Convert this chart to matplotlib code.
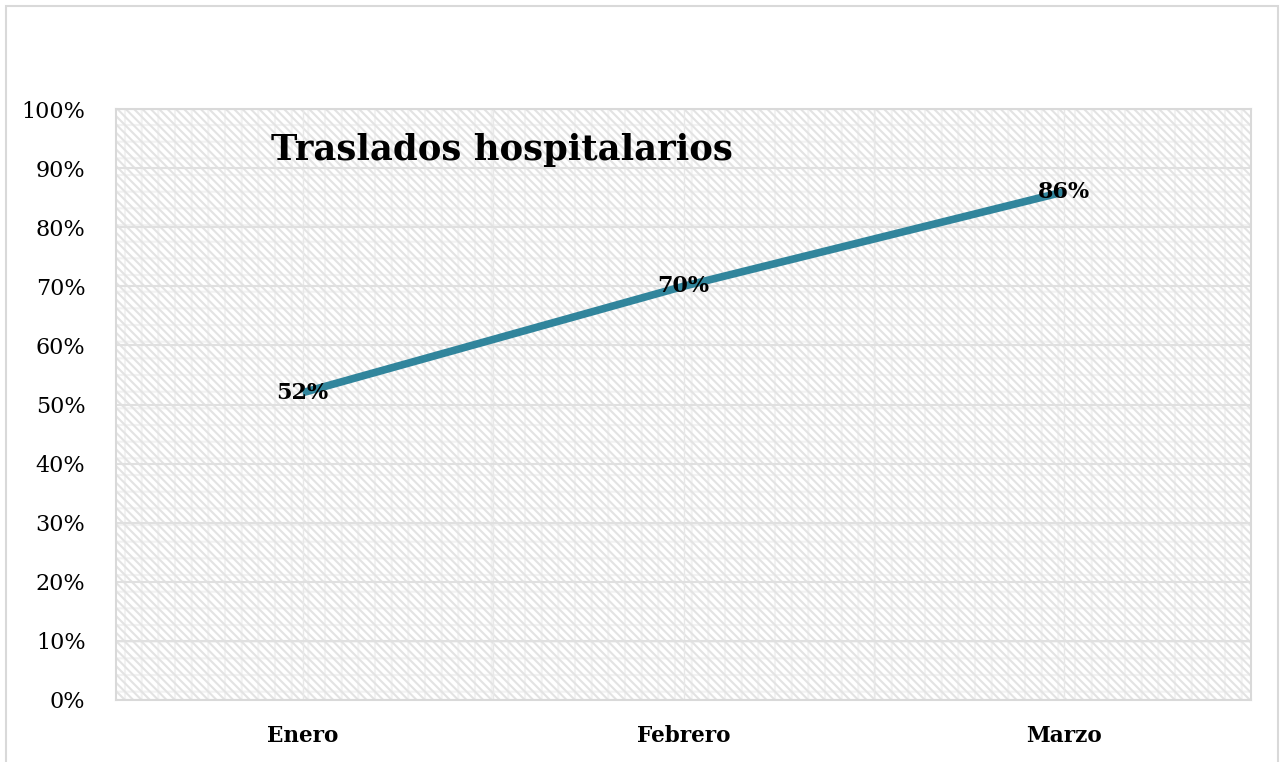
import matplotlib.pyplot as plt
from matplotlib.patches import Rectangle
from matplotlib.ticker import PercentFormatter

meses = ["Enero", "Febrero", "Marzo"]
traslados = [52, 70, 86]

plt.rcParams['font.family'] = ['DejaVu Serif']
plt.rcParams['hatch.linewidth'] = 1.5

fig = plt.figure(figsize=(12.84, 7.62), dpi=100)
ax = fig.add_axes([116 / 1284, 1 - 700 / 762, (1251 - 116) / 1284, (700 - 109) / 762])

# marco exterior del grafico
fig.patches.append(Rectangle((6 / 1284, -0.01), 1272 / 1284, 1 - 6 / 762 + 0.01,
                             transform=fig.transFigure, fill=False,
                             edgecolor='#d9d9d9', linewidth=1.5))

# fondo rayado del area de trazado
ax.add_patch(Rectangle((0, 0), 1, 1, transform=ax.transAxes, facecolor='white',
                       edgecolor='#f2f2f2', hatch='+', linewidth=0, zorder=0))
ax.add_patch(Rectangle((0, 0), 1, 1, transform=ax.transAxes, facecolor='none',
                       edgecolor='#e3e3e3', hatch='\\\\\\\\', linewidth=0, zorder=0))

x = range(len(meses))
ax.plot(x, traslados, color='#31859c', linewidth=5.5, solid_capstyle='butt', zorder=3)

for xi, v in zip(x, traslados):
    ax.text(xi, v, f"{v}%", ha='center', va='center', fontsize=16,
            fontweight='bold', zorder=4)

ax.text(0.137, 0.93, "Traslados hospitalarios", transform=ax.transAxes,
        fontsize=25.5, fontweight='bold', ha='left', va='center')

ax.set_xlim(-0.49, 2.49)
ax.set_ylim(0, 100)
ax.set_yticks(range(0, 101, 10))
ax.yaxis.set_major_formatter(PercentFormatter(decimals=0))
ax.set_xticks(list(x))
ax.set_xticklabels(meses, fontweight='bold')
ax.set_xticks([0.5, 1.5], minor=True)

ax.grid(axis='y', color='#e0e0e0', linewidth=1.5, zorder=1)
ax.grid(axis='x', which='both', color='#e8e8e8', linewidth=1, zorder=1)
ax.set_axisbelow(True)

ax.tick_params(axis='both', which='both', length=0)
ax.tick_params(axis='y', pad=22, labelsize=16)
ax.tick_params(axis='x', pad=18, labelsize=15.5)
for s in ax.spines.values():
    s.set_color('#d9d9d9')
    s.set_linewidth(1.5)

plt.savefig("out.png", dpi=100)
